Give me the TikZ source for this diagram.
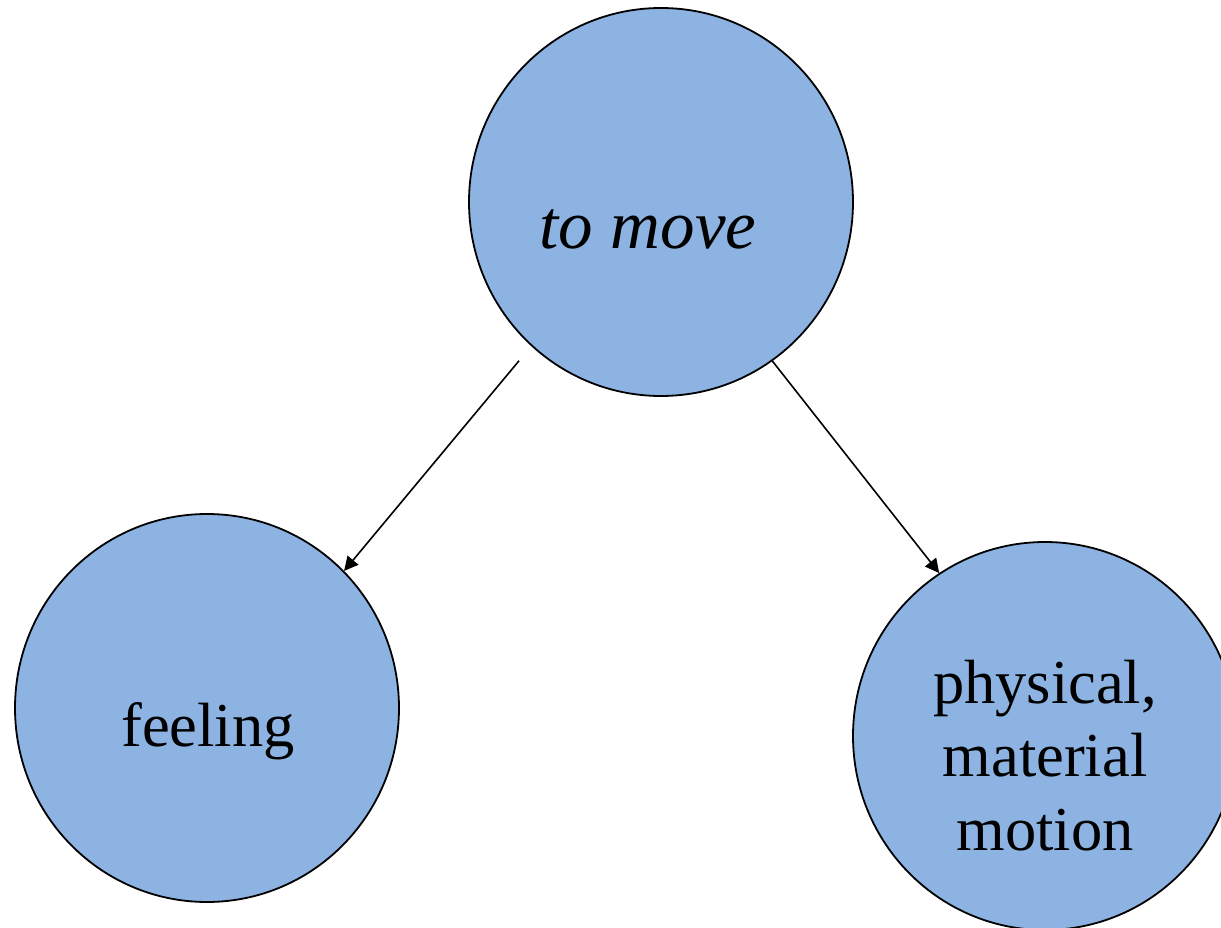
\documentclass[tikz,border=0pt]{standalone}
\usepackage{fontspec}
\setmainfont{Liberation Serif}
\usetikzlibrary{arrows.meta,shapes.geometric}
\definecolor{bubble}{HTML}{8DB3E2}
\tikzset{
  bubble/.style={ellipse,draw=black,line width=1.8pt,fill=bubble,inner sep=0pt,
    minimum width=384pt,minimum height=388pt},
  label/.style={font=\fontsize{62.5}{73.5}\selectfont,inner sep=0pt,align=center},
  link/.style={line width=1.6pt,-{Triangle[length=14pt,width=14pt]}}
}
\begin{document}
\begin{tikzpicture}[x=1pt,y=-1pt]
\useasboundingbox (0,0) rectangle (1221,928);
\node[bubble] (top) at (661,202) {};
\node[bubble] (left) at (207,708) {};
\node[bubble] (right) at (1045,736) {};
\node[label,anchor=base,font=\fontsize{69}{80}\selectfont\itshape] (ttop) at (648,248) {to move};
\node[label,anchor=base] (tleft) at (208,746) {feeling};
\node[label,anchor=base] (tright) at (1045,850) {physical,\\material\\motion};
\draw[link,shorten <=19pt] (top.-132) -- (left.45);
\draw[link] (top.-55) -- (right.123);
\end{tikzpicture}
\end{document}
